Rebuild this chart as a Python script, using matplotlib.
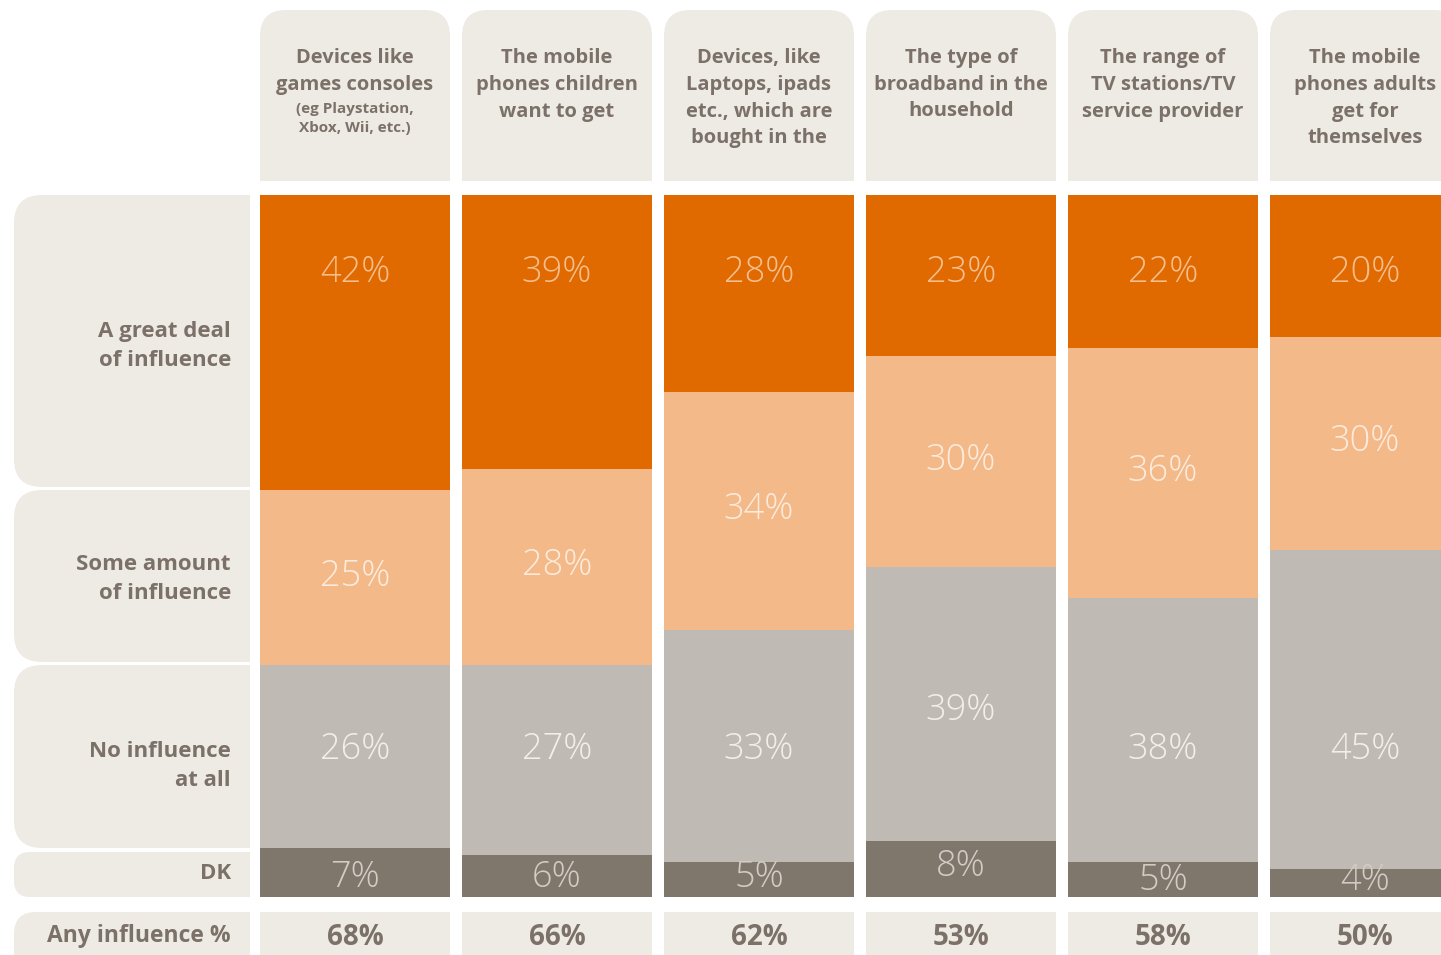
import matplotlib
matplotlib.use("Agg")
import matplotlib.pyplot as plt
from matplotlib.patches import FancyBboxPatch, Rectangle
import numpy as np

# survey categories (column headers)
categories = [
    "Devices like\ngames consoles",
    "The mobile\nphones children\nwant to get",
    "Devices, like\nLaptops, ipads\netc., which are\nbought in the",
    "The type of\nbroadband in the\nhousehold",
    "The range of\nTV stations/TV\nservice provider",
    "The mobile\nphones adults\nget for\nthemselves",
]
sub_notes = ["(eg Playstation,\nXbox, Wii, etc.)", "", "", "", "", ""]

row_labels = ["A great deal\nof influence", "Some amount\nof influence",
              "No influence\nat all", "DK"]

great_deal = [42, 39, 28, 23, 22, 20]
some_amount = [25, 28, 34, 30, 36, 30]
no_influence = [26, 27, 33, 39, 38, 45]
dont_know = [7, 6, 5, 8, 5, 4]
any_influence = [68, 66, 62, 53, 58, 50]

# where the grey and DK labels sit inside each bar (percent of bar height)
grey_label_y = [21.0, 21.0, 21.0, 26.5, 21.0, 21.0]
dk_label_y = [2.8, 2.8, 2.8, 4.4, 2.4, 2.3]

ORANGE = "#E06A00"
PEACH = "#F3B988"
GREY = "#BFBAB4"
DARK = "#7F766C"
CELL = "#EEEBE5"
TEXT = "#7B7169"

W, H = 1441, 955
fig = plt.figure(figsize=(W / 100, H / 100), dpi=100)
fig.patch.set_facecolor("white")

FONT = "Open Sans"

# background layer in pixel coordinates for the label cells
bg = fig.add_axes([0, 0, 1, 1])
bg.set_xlim(0, W)
bg.set_ylim(H, 0)
bg.axis("off")

col_left = [260 + 202 * i for i in range(6)]
col_w = 190


def cell(x0, y0, x1, y1, rad, square_side):
    bg.add_patch(FancyBboxPatch((x0 + rad, y0 + rad), x1 - x0 - 2 * rad, y1 - y0 - 2 * rad,
                                boxstyle=f"round,pad={rad}", fc=CELL, ec="none",
                                mutation_aspect=1))
    if square_side == "bottom":
        bg.add_patch(Rectangle((x0, (y0 + y1) / 2), x1 - x0, (y1 - y0) / 2, fc=CELL, ec="none"))
    elif square_side == "right":
        bg.add_patch(Rectangle(((x0 + x1) / 2, y0), (x1 - x0) / 2, y1 - y0, fc=CELL, ec="none"))


# column header cells
for i, x0 in enumerate(col_left):
    cell(x0, 10, x0 + col_w, 181, 26, "bottom")
    cx = x0 + col_w / 2
    bg.text(cx, 48, categories[i], ha="center", va="top", fontsize=14.5,
            fontweight="bold", color=TEXT, family=FONT, linespacing=1.45)
    if sub_notes[i]:
        bg.text(cx, 102, sub_notes[i], ha="center", va="top", fontsize=11,
                fontweight="bold", color=TEXT, family=FONT, linespacing=1.45)

# row label cells
row_spans = [(195, 487), (490, 662), (665, 848), (852, 897)]
row_text_y = [346, 579, 766, 873]
for (y0, y1), ty, lab in zip(row_spans, row_text_y, row_labels):
    cell(14, y0, 250, y1, 28 if y1 - y0 > 60 else 16, "right")
    bg.text(231, ty, lab, ha="right", va="center", fontsize=16,
            fontweight="bold", color=TEXT, family=FONT, linespacing=1.45)

# bottom summary row
cell(14, 912, 250, 975, 22, "right")
bg.text(231, 936, "Any influence %", ha="right", va="center", fontsize=16.5,
        fontweight="bold", color=TEXT, family=FONT)
for i, x0 in enumerate(col_left):
    bg.add_patch(Rectangle((x0, 912), col_w, 60, fc=CELL, ec="none"))
    bg.text(x0 + col_w / 2, 937, f"{any_influence[i]}%", ha="center", va="center",
            fontsize=20, fontweight="bold", color=TEXT, family=FONT)

# stacked bars
pitch = 202
bw = col_w / pitch
x_lo = -bw / 2
x_hi = x_lo + (W - 260) / pitch
ax = fig.add_axes([260 / W, (H - 897) / H, (W - 260) / W, 702 / H])
ax.set_xlim(x_lo, x_hi)
ax.set_ylim(0, 100)
ax.axis("off")

x = np.arange(len(categories))
stack = np.array([dont_know, no_influence, some_amount, great_deal], dtype=float)
stack = stack / stack.sum(axis=0) * 100
colors = [DARK, GREY, PEACH, ORANGE]
bottom = np.zeros(len(x))
for vals, c in zip(stack, colors):
    ax.bar(x, vals, bw, bottom=bottom, color=c, edgecolor="none")
    bottom += vals

pct_kw = dict(ha="center", va="center", fontsize=26, fontweight="light", family=FONT)
for i in range(len(x)):
    ax.text(x[i], 88.9, f"{great_deal[i]}%", color="#F5BE8C", **pct_kw)
    peach_mid = stack[0, i] + stack[1, i] + stack[2, i] / 2
    ax.text(x[i], peach_mid + 0.2, f"{some_amount[i]}%", color="#FCEBDD", **pct_kw)
    ax.text(x[i], grey_label_y[i], f"{no_influence[i]}%", color="#F2EFEA", **pct_kw)
    ax.text(x[i], dk_label_y[i], f"{dont_know[i]}%", color="#D2CCC5", **pct_kw)

fig.savefig("out.png", dpi=100, facecolor="white")
